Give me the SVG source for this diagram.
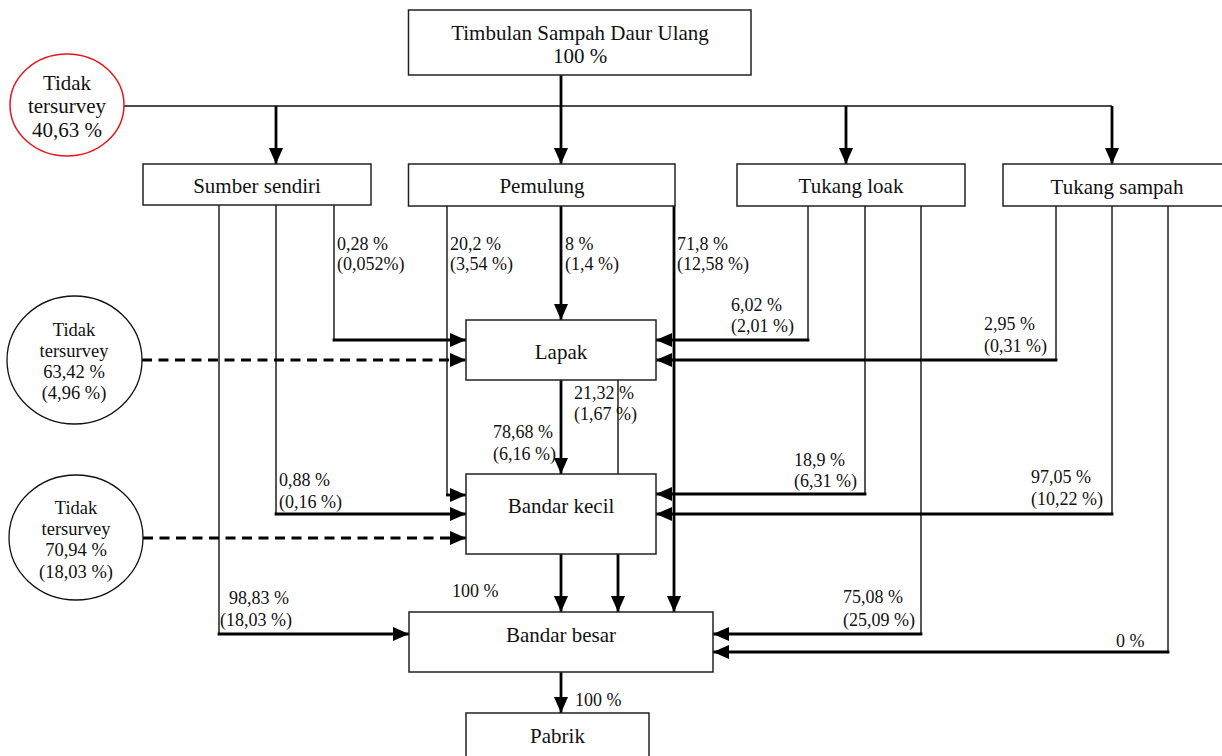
<svg xmlns="http://www.w3.org/2000/svg" width="1222" height="756" viewBox="0 0 1222 756">
<defs>
<marker id="ah" markerUnits="userSpaceOnUse" markerWidth="16" markerHeight="14" refX="16" refY="7" orient="auto">
<path d="M0,0 L16,7 L0,14 Z" fill="#000"/>
</marker>
<style>
.box{fill:#fff;stroke:#222;stroke-width:1.5}
.ell{fill:#fff;stroke:#111;stroke-width:1.3}
.red{fill:#fff;stroke:#e8141a;stroke-width:1.5}
.nt{font-family:"Liberation Serif","Times New Roman",serif;font-size:21px;fill:#111;text-anchor:middle}
.et{font-family:"Liberation Serif","Times New Roman",serif;font-size:18.5px;fill:#111;text-anchor:middle}
.lb{font-family:"Liberation Serif","Times New Roman",serif;font-size:18px;fill:#111}
.thin{fill:none;stroke:#111;stroke-width:1.4}
.thick{fill:none;stroke:#000;stroke-width:2.8;marker-end:url(#ah)}
.dash{fill:none;stroke:#000;stroke-width:2.8;stroke-dasharray:10 6.5;marker-end:url(#ah)}
</style>
</defs>
<rect width="1222" height="756" fill="#fff"/>

<g id="connectors">
<path class="thin" d="M124,106 H1112"/>
<path class="thick" d="M276,106 V164"/>
<path class="thick" d="M561,75 V164"/>
<path class="thick" d="M846,106 V164"/>
<path class="thick" d="M1112,106 V164"/>

<path class="thin" d="M334,205 V340"/>
<path class="thick" d="M332.6,340 H466"/>
<path class="thin" d="M276,205 V514"/>
<path class="thick" d="M274.6,514 H466"/>
<path class="thin" d="M219,205 V634"/>
<path class="thick" d="M217.6,634 H409"/>

<path class="thin" d="M447,206 V495"/>
<path class="thick" d="M446,495 H466"/>
<path class="thick" d="M561,206 V320"/>
<path class="thick" d="M674,206 V612"/>

<path class="thick" d="M561,380 V474"/>
<path class="thin" d="M618,380 V474"/>
<path class="thick" d="M561,554 V612"/>
<path class="thick" d="M618,554 V612"/>
<path class="thick" d="M561,672 V713"/>

<path class="thin" d="M808,206 V340"/>
<path class="thick" d="M809.4,340 H656"/>
<path class="thin" d="M865,206 V494"/>
<path class="thick" d="M866.4,494 H656"/>
<path class="thin" d="M921,206 V634"/>
<path class="thick" d="M922.4,634 H713"/>

<path class="thin" d="M1056,206 V360"/>
<path class="thick" d="M1057.4,360 H656"/>
<path class="thin" d="M1112,206 V514"/>
<path class="thick" d="M1113.4,514 H656"/>
<path class="thin" d="M1168,206 V652"/>
<path class="thick" d="M1169.4,652 H713"/>

<path class="dash" d="M142,360 H466"/>
<path class="dash" d="M143,538 H466"/>
</g>

<g id="labels">
<text class="lb" x="337" y="250">0,28 %</text>
<text class="lb" x="337" y="270">(0,052%)</text>
<text class="lb" x="450" y="250">20,2 %</text>
<text class="lb" x="450" y="270">(3,54 %)</text>
<text class="lb" x="565" y="250">8 %</text>
<text class="lb" x="565" y="270">(1,4 %)</text>
<text class="lb" x="677" y="250">71,8 %</text>
<text class="lb" x="677" y="270">(12,58 %)</text>
<text class="lb" x="731" y="311">6,02 %</text>
<text class="lb" x="731" y="332">(2,01 %)</text>
<text class="lb" x="984" y="330">2,95 %</text>
<text class="lb" x="984" y="352">(0,31 %)</text>
<text class="lb" x="574" y="399">21,32 %</text>
<text class="lb" x="574" y="420">(1,67 %)</text>
<text class="lb" x="493" y="438">78,68 %</text>
<text class="lb" x="493" y="460">(6,16 %)</text>
<text class="lb" x="279" y="486">0,88 %</text>
<text class="lb" x="279" y="508">(0,16 %)</text>
<text class="lb" x="794" y="466">18,9 %</text>
<text class="lb" x="794" y="487">(6,31 %)</text>
<text class="lb" x="1031" y="483">97,05 %</text>
<text class="lb" x="1031" y="505">(10,22 %)</text>
<text class="lb" x="452" y="597">100 %</text>
<text class="lb" x="229" y="604">98,83 %</text>
<text class="lb" x="220" y="626">(18,03 %)</text>
<text class="lb" x="843" y="603">75,08 %</text>
<text class="lb" x="843" y="626">(25,09 %)</text>
<text class="lb" x="1116" y="647">0 %</text>
<text class="lb" x="575" y="706">100 %</text>
</g>

<g id="timbulan">
<rect class="box" x="408.5" y="10" width="342.5" height="65"/>
<text class="nt" x="580" y="40">Timbulan Sampah Daur Ulang</text>
<text class="nt" x="580" y="63">100 %</text>
</g>
<g id="tidak-tersurvey-1">
<ellipse class="red" cx="67" cy="105" rx="57" ry="51"/>
<text class="nt" x="67" y="90">Tidak</text>
<text class="nt" x="67" y="113">tersurvey</text>
<text class="nt" x="67" y="137">40,63 %</text>
</g>
<g id="sumber-sendiri">
<rect class="box" x="143" y="164" width="228" height="41"/>
<text class="nt" x="257" y="193">Sumber sendiri</text>
</g>
<g id="pemulung">
<rect class="box" x="408.5" y="164" width="266.5" height="42"/>
<text class="nt" x="542" y="193">Pemulung</text>
</g>
<g id="tukang-loak">
<rect class="box" x="737" y="164" width="228" height="42"/>
<text class="nt" x="851" y="193">Tukang loak</text>
</g>
<g id="tukang-sampah">
<rect class="box" x="1003" y="164" width="228" height="42"/>
<text class="nt" x="1117" y="194">Tukang sampah</text>
</g>
<g id="lapak">
<rect class="box" x="466" y="320" width="190" height="60"/>
<text class="nt" x="561" y="359">Lapak</text>
</g>
<g id="tidak-tersurvey-2">
<ellipse class="ell" cx="74.5" cy="360" rx="67.5" ry="64"/>
<text class="et" x="74" y="336">Tidak</text>
<text class="et" x="74" y="357">tersurvey</text>
<text class="et" x="74" y="378">63,42 %</text>
<text class="et" x="74" y="399">(4,96 %)</text>
</g>
<g id="bandar-kecil">
<rect class="box" x="466" y="474" width="190" height="80"/>
<text class="nt" x="561" y="513">Bandar kecil</text>
</g>
<g id="tidak-tersurvey-3">
<ellipse class="ell" cx="76" cy="537.5" rx="67" ry="62.5"/>
<text class="et" x="76" y="514">Tidak</text>
<text class="et" x="76" y="535">tersurvey</text>
<text class="et" x="76" y="556">70,94 %</text>
<text class="et" x="76" y="578">(18,03 %)</text>
</g>
<g id="bandar-besar">
<rect class="box" x="409" y="612" width="304" height="60"/>
<text class="nt" x="561" y="642">Bandar besar</text>
</g>
<g id="pabrik">
<rect class="box" x="466" y="713" width="183" height="60"/>
<text class="nt" x="557.5" y="743">Pabrik</text>
</g>
</svg>
